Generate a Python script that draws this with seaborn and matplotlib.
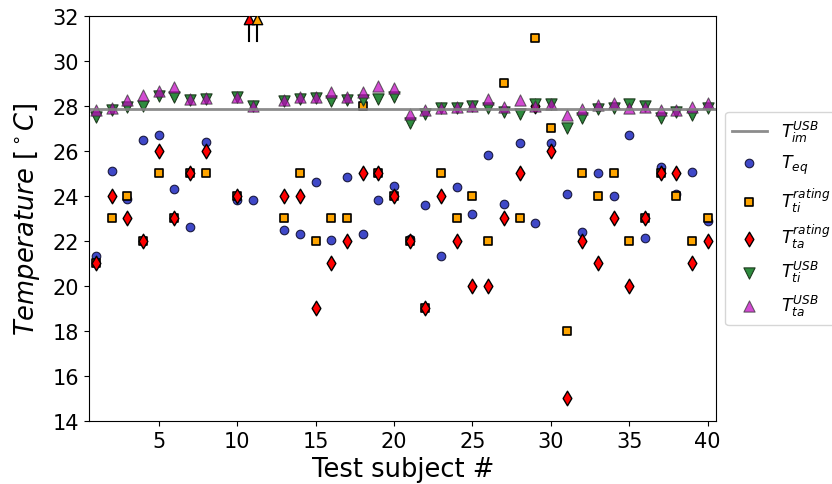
import numpy as np
import matplotlib
matplotlib.use("Agg")
import matplotlib.pyplot as plt
import seaborn as sns

# test subjects (9 and 12 are missing)
subjects = [1, 2, 3, 4, 5, 6, 7, 8, 10, 11, 13, 14, 15, 16, 17, 18, 19, 20, 21, 22,
            23, 24, 25, 26, 27, 28, 29, 30, 31, 32, 33, 34, 35, 36, 37, 38, 39, 40]

T_eq = [21.35, 25.1, 23.85, 26.5, 26.7, 24.3, 22.6, 26.4, 23.8, 23.8, 22.5, 22.3, 24.6, 22.05,
        24.85, 22.3, 23.8, 24.45, 22.1, 23.6, 21.35, 24.4, 23.2, 25.8, 23.65, 26.35, 22.8, 26.35,
        24.1, 22.4, 25.0, 24.0, 26.7, 22.15, 25.3, 24.1, 25.05, 22.9]

T_ti_rating = [21, 23, 24, 22, 25, 23, 25, 25, 24, np.nan, 23, 25, 22, 23, 23, 28, 25, 24, 22, 19,
               25, 23, 24, 22, 29, 23, 31, 27, 18, 25, 24, 25, 22, 23, 25, 24, 22, 23]

T_ta_rating = [21, 24, 23, 22, 26, 23, 25, 26, 24, np.nan, 24, 24, 19, 21, 22, 25, 25, 24, 22, 19,
               24, 22, 20, 20, 23, 25, 28, 26, 15, 22, 21, 23, 20, 23, 25, 25, 21, 22]

T_ti_USB = [27.5, 27.8, 27.95, 28.0, 28.45, 28.4, 28.25, 28.3, 28.4, 28.0, 28.2, 28.3, 28.35, 28.2,
            28.27, 28.27, 28.3, 28.4, 27.25, 27.65, 27.9, 27.9, 28.0, 27.9, 27.75, 27.65, 28.1, 28.1,
            27.0, 27.45, 27.85, 27.9, 28.1, 28.0, 27.45, 27.75, 27.6, 27.9]

T_ta_USB = [27.8, 27.9, 28.25, 28.5, 28.65, 28.85, 28.3, 28.35, 28.4, 28.0, 28.25, 28.4, 28.4, 28.6,
            28.4, 28.6, 28.9, 28.8, 27.65, 27.8, 27.9, 27.95, 28.0, 28.3, 27.95, 28.25, 28.0, 28.1,
            27.6, 27.85, 28.05, 28.15, 27.9, 27.95, 27.8, 27.8, 27.95, 28.15]

T_im_USB = 27.85

# subject 11: rating values above the plotted range
offscale_subject = 11

fig, ax = plt.subplots(figsize=(8.32, 4.85), dpi=100)
fig.subplots_adjust(left=0.107, right=0.861, top=0.965, bottom=0.13)

ax.axhline(T_im_USB, color="gray", lw=2, alpha=0.9, label=r"$T_{im}^{USB}$")

sns.scatterplot(x=subjects, y=T_eq, ax=ax, marker="o", color="#3f48c8", s=38,
                edgecolor="#1a1a40", linewidth=0.8, label=r"$T_{eq}$")
sns.scatterplot(x=subjects, y=T_ti_rating, ax=ax, marker="s", color="orange", s=36,
                edgecolor="black", linewidth=1.2, label=r"$T_{ti}^{rating}$")
sns.scatterplot(x=subjects, y=T_ta_rating, ax=ax, marker="d", color="red", s=55,
                edgecolor="black", linewidth=1.0, label=r"$T_{ta}^{rating}$")
sns.scatterplot(x=subjects, y=T_ti_USB, ax=ax, marker="v", color="#2e8b3e", s=65,
                edgecolor="#1e3a1e", linewidth=0.8, label=r"$T_{ti}^{USB}$")
sns.scatterplot(x=subjects, y=T_ta_USB, ax=ax, marker="^", color="m", s=65, alpha=0.7,
                edgecolor="#303030", linewidth=0.8, label=r"$T_{ta}^{USB}$")

# off-scale markers with arrows for subject 11
for dx, c in [(-0.25, "red"), (0.25, "orange")]:
    ax.plot([offscale_subject + dx] * 2, [30.9, 31.8], color="black", lw=1.5, zorder=4)
    sns.scatterplot(x=[offscale_subject + dx], y=[31.85], ax=ax, marker="^", color=c, s=55,
                    edgecolor="black", linewidth=1.0, zorder=5, legend=False)

ax.set_xlim(0.55, 40.55)
ax.set_ylim(14, 32)
ax.set_xticks([5, 10, 15, 20, 25, 30, 35, 40])
ax.set_yticks(range(14, 33, 2))
ax.tick_params(labelsize=15)
ax.set_xlabel("Test subject #", fontsize=18.5, labelpad=4)
ax.set_ylabel(r"$Temperature\ [^\circ C]$", fontsize=18.5, labelpad=8)

ax.legend(loc="center left", bbox_to_anchor=(1.0, 0.5), fontsize=12.5)

fig.savefig("out.png", dpi=100)
